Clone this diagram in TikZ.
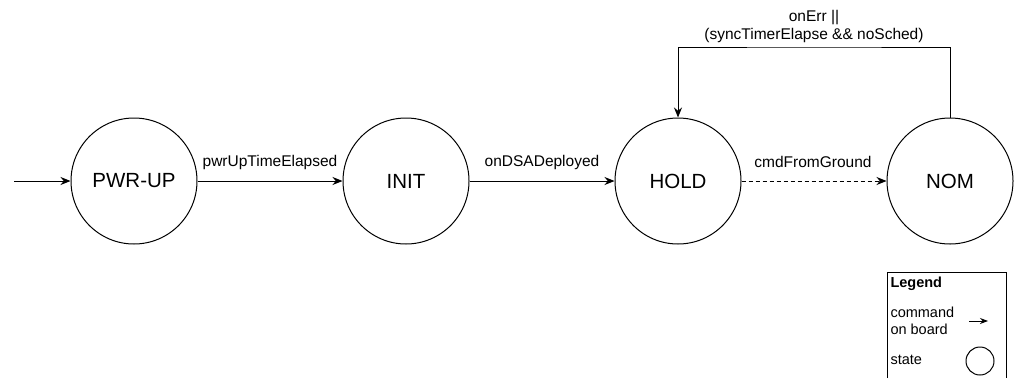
\documentclass[tikz,border=0pt]{standalone}
\usepackage{fontspec}
\setmainfont{Liberation Sans}
\usetikzlibrary{arrows.meta}
\begin{document}
\begin{tikzpicture}[x=1pt,y=-1pt,
  line width=1pt,
  state/.style={circle,draw,minimum size=126pt,inner sep=0pt,font=\fontsize{20.5}{24}\selectfont},
  trans/.style={-{Stealth[length=10pt,width=8pt]}},
  elabel/.style={font=\fontsize{15.5}{18}\selectfont,inner sep=0pt},
  legtext/.style={font=\fontsize{14.5}{16.5}\selectfont,inner sep=0pt,anchor=west,align=left}]
\useasboundingbox (0,0) rectangle (1019,378);

% states
\node[state] (pwr)  at (134,181) {PWR-UP};
\node[state] (init) at (406,181) {INIT};
\node[state] (hold) at (678,181) {HOLD};
\node[state] (nom)  at (950,181) {NOM};
\coordinate (start) at (14,181);

% transitions
\draw[trans] (start) -- (pwr);
\draw[trans] (pwr) -- (init);
\draw[trans] (init) -- (hold);
\draw[trans,dashed,dash pattern=on 4pt off 3pt] (hold) -- (nom);
\draw[trans] (nom.north) |- (814,47) -| (hold.north);

% transition labels
\node[elabel] (l1) at (270,162) {pwrUpTimeElapsed};
\node[elabel] (l2) at (542,162) {onDSADeployed};
\node[elabel] (l3) at (813,162) {cmdFromGround};
\node[elabel,align=center] (l4) at (814,26) {onErr ||\\(syncTimerElapse \&\& noSched)};

% legend
\draw[line width=0.9pt] (887,378) -- (887,272) -- (1006,272) -- (1006,378);
\node[legtext,font=\fontsize{14.5}{16.5}\selectfont\bfseries] (lg) at (890,284) {Legend};
\node[legtext] (lc) at (890,321) {command\\on board};
\node[legtext] (ls) at (890,360) {state};
\coordinate (la) at (969,321);
\coordinate (lb) at (988,321);
\draw[-{Stealth[length=8pt,width=6pt]}] (la) -- (lb);
\node[circle,draw,minimum size=28pt,inner sep=0pt] (lcirc) at (980,361) {};
\end{tikzpicture}
\end{document}
